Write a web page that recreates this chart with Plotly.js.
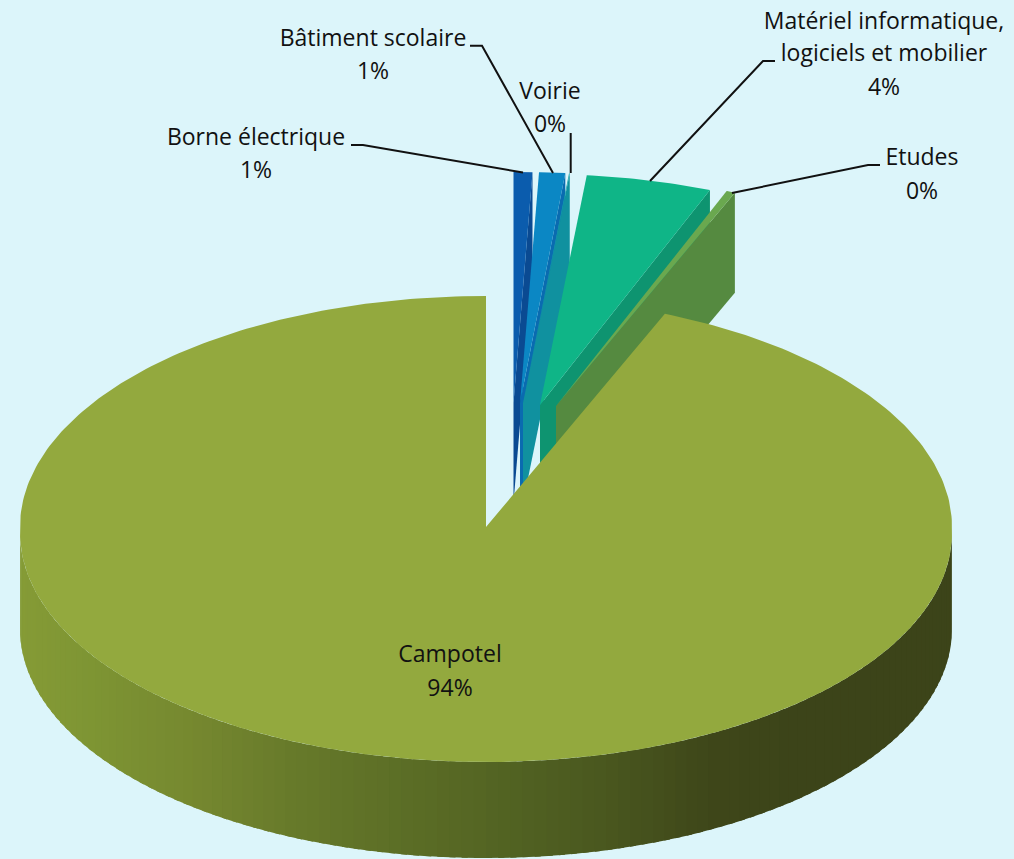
<!DOCTYPE html>
<html><head><meta charset="utf-8">
<script src="https://cdn.plot.ly/plotly-3.0.1.min.js"></script>
<style>html,body{margin:0;padding:0;background:#dcf5fa}#chart{width:1014px;height:859px}</style>
</head><body><div id="chart"></div>
<script>
// ---- data (share of total, %) ----
const categories = ["Borne électrique", "Bâtiment scolaire", "Voirie", "Matériel informatique, logiciels et mobilier", "Etudes", "Campotel"];
const values = [0.65, 0.9, 0.05, 4.34, 0.33, 93.73];
const labelLines = [["Borne électrique"], ["Bâtiment scolaire"], ["Voirie"], ["Matériel informatique,", "logiciels et mobilier"], ["Etudes"], ["Campotel"]];

// ---- styling and layout of the 3D pie ----
const topColors = ["#0b5cad", "#0b87c4", "#14a3a8", "#0fb587", "#6aa84f", "#93a93e"];
const cutColors = ["#0a4a92", "#0a6bb0", "#10919f", "#0e9470", "#558a40", "#93a93e"];
const apexX = [513.5, 520, 523, 540, 556, 486];
const apexY = [403, 403, 403, 405, 406, 527];
const labelX = [256, 373, 550, 884, 922, 450];
const labelY = [[139, 172], [40, 73], [93, 126], [23, 55, 89], [159, 193], [656, 690]];
const leaderX = [[351, 363, 523], [470, 482, 553], [570.7, 570.7], [775, 763, 650], [880, 868, 732]];
const leaderY = [[145, 145, 172.5], [45.7, 45.7, 173], [133, 173], [61, 61, 181], [165, 165, 193]];
const radiusX = 466, radiusY = 231, nearRadiusY = 229, nearShift = 6, depth = 96, cutDepth = 100;
const wallStopX = [20, 100, 200, 300, 400, 486, 600, 714, 800, 952];
const wallStopC = [[133,155,54],[125,148,51],[117,135,47],[102,121,42],[92,110,38],[84,101,35],[74,88,31],[62,70,25],[60,68,25],[60,68,25]];
const background = "#dcf5fa";

const rad = d => d * Math.PI / 180;
const total = values.reduce((a, b) => a + b, 0);
const onRim = (i, deg) => {
  const c = Math.cos(rad(deg));
  const y = c >= 0 ? apexY[i] - radiusY * c : apexY[i] + nearShift - nearRadiusY * c;
  return [apexX[i] + radiusX * Math.sin(rad(deg)), y];
};
const poly = (pts, color) => ({
  type: "scatter", mode: "lines", x: pts.map(p => p[0]), y: pts.map(p => p[1]),
  fill: "toself", fillcolor: color, line: {width: 0, color: color},
  hoverinfo: "skip", showlegend: false
});
function wallColor(x) {
  let k = 0;
  while (k < wallStopX.length - 2 && x > wallStopX[k + 1]) k++;
  const t = Math.max(0, Math.min(1, (x - wallStopX[k]) / (wallStopX[k + 1] - wallStopX[k])));
  const c = wallStopC[k].map((v, j) => Math.round(v + (wallStopC[k + 1][j] - v) * t));
  return `rgb(${c[0]},${c[1]},${c[2]})`;
}

const traces = [];
let start = 0;
const spans = values.map(v => { const s = [start, start + v / total * 360]; start = s[1]; return s; });

// Campotel outer wall: shaded strips from left to right
const last = values.length - 1;
const stepDeg = 1.5;
for (let d = 270; d > 90; d -= stepDeg) {
  const pts = [];
  const end = Math.max(90, d - stepDeg * 1.6);
  for (let a = d; a >= end - 1e-6; a -= 0.25) pts.push(onRim(last, a));
  const down = pts.slice().reverse().map(p => [p[0], p[1] + depth]);
  const mid = apexX[last] + radiusX * Math.sin(rad(d - stepDeg / 2));
  traces.push(poly(pts.concat(down), wallColor(mid)));
}

// exploded slices: cut face, then top face
for (let i = 0; i < last; i++) {
  const [a0, a1] = spans[i];
  const o = onRim(i, a1);
  traces.push(poly([[apexX[i], apexY[i]], o, [o[0], o[1] + cutDepth], [apexX[i], apexY[i] + cutDepth]], cutColors[i]));
  const pts = [[apexX[i], apexY[i]]];
  for (let k = 0; k <= 24; k++) pts.push(onRim(i, a0 + (a1 - a0) * k / 24));
  traces.push(poly(pts, topColors[i]));
}

// Campotel top face
const topPts = [[apexX[last], apexY[last]]];
for (let k = 0; k <= 360; k++) topPts.push(onRim(last, spans[last][0] + (spans[last][1] - spans[last][0]) * k / 360));
traces.push(poly(topPts, topColors[last]));

// leader lines
leaderX.forEach((xs, i) => traces.push({
  type: "scatter", mode: "lines", x: xs, y: leaderY[i],
  line: {color: "#111111", width: 2}, hoverinfo: "skip", showlegend: false
}));

// labels
const tx = [], ty = [], tt = [];
categories.forEach((c, i) => {
  const lines = labelLines[i].concat([Math.round(values[i] / total * 100) + "%"]);
  lines.forEach((s, j) => { tx.push(labelX[i]); ty.push(labelY[i][j]); tt.push(s); });
});
traces.push({
  type: "scatter", mode: "text", x: tx, y: ty, text: tt, textposition: "middle center",
  textfont: {family: "'Open Sans', sans-serif", size: 23, color: "#111111"},
  hoverinfo: "skip", showlegend: false
});

const axis = r => ({range: r, visible: false, fixedrange: true, showgrid: false, zeroline: false});
Plotly.newPlot("chart", traces, {
  width: 1014, height: 859, margin: {l: 0, r: 0, t: 0, b: 0},
  paper_bgcolor: background, plot_bgcolor: background,
  xaxis: axis([0, 1014]), yaxis: axis([859, 0]), showlegend: false
}, {displayModeBar: false, staticPlot: true});
</script></body></html>
